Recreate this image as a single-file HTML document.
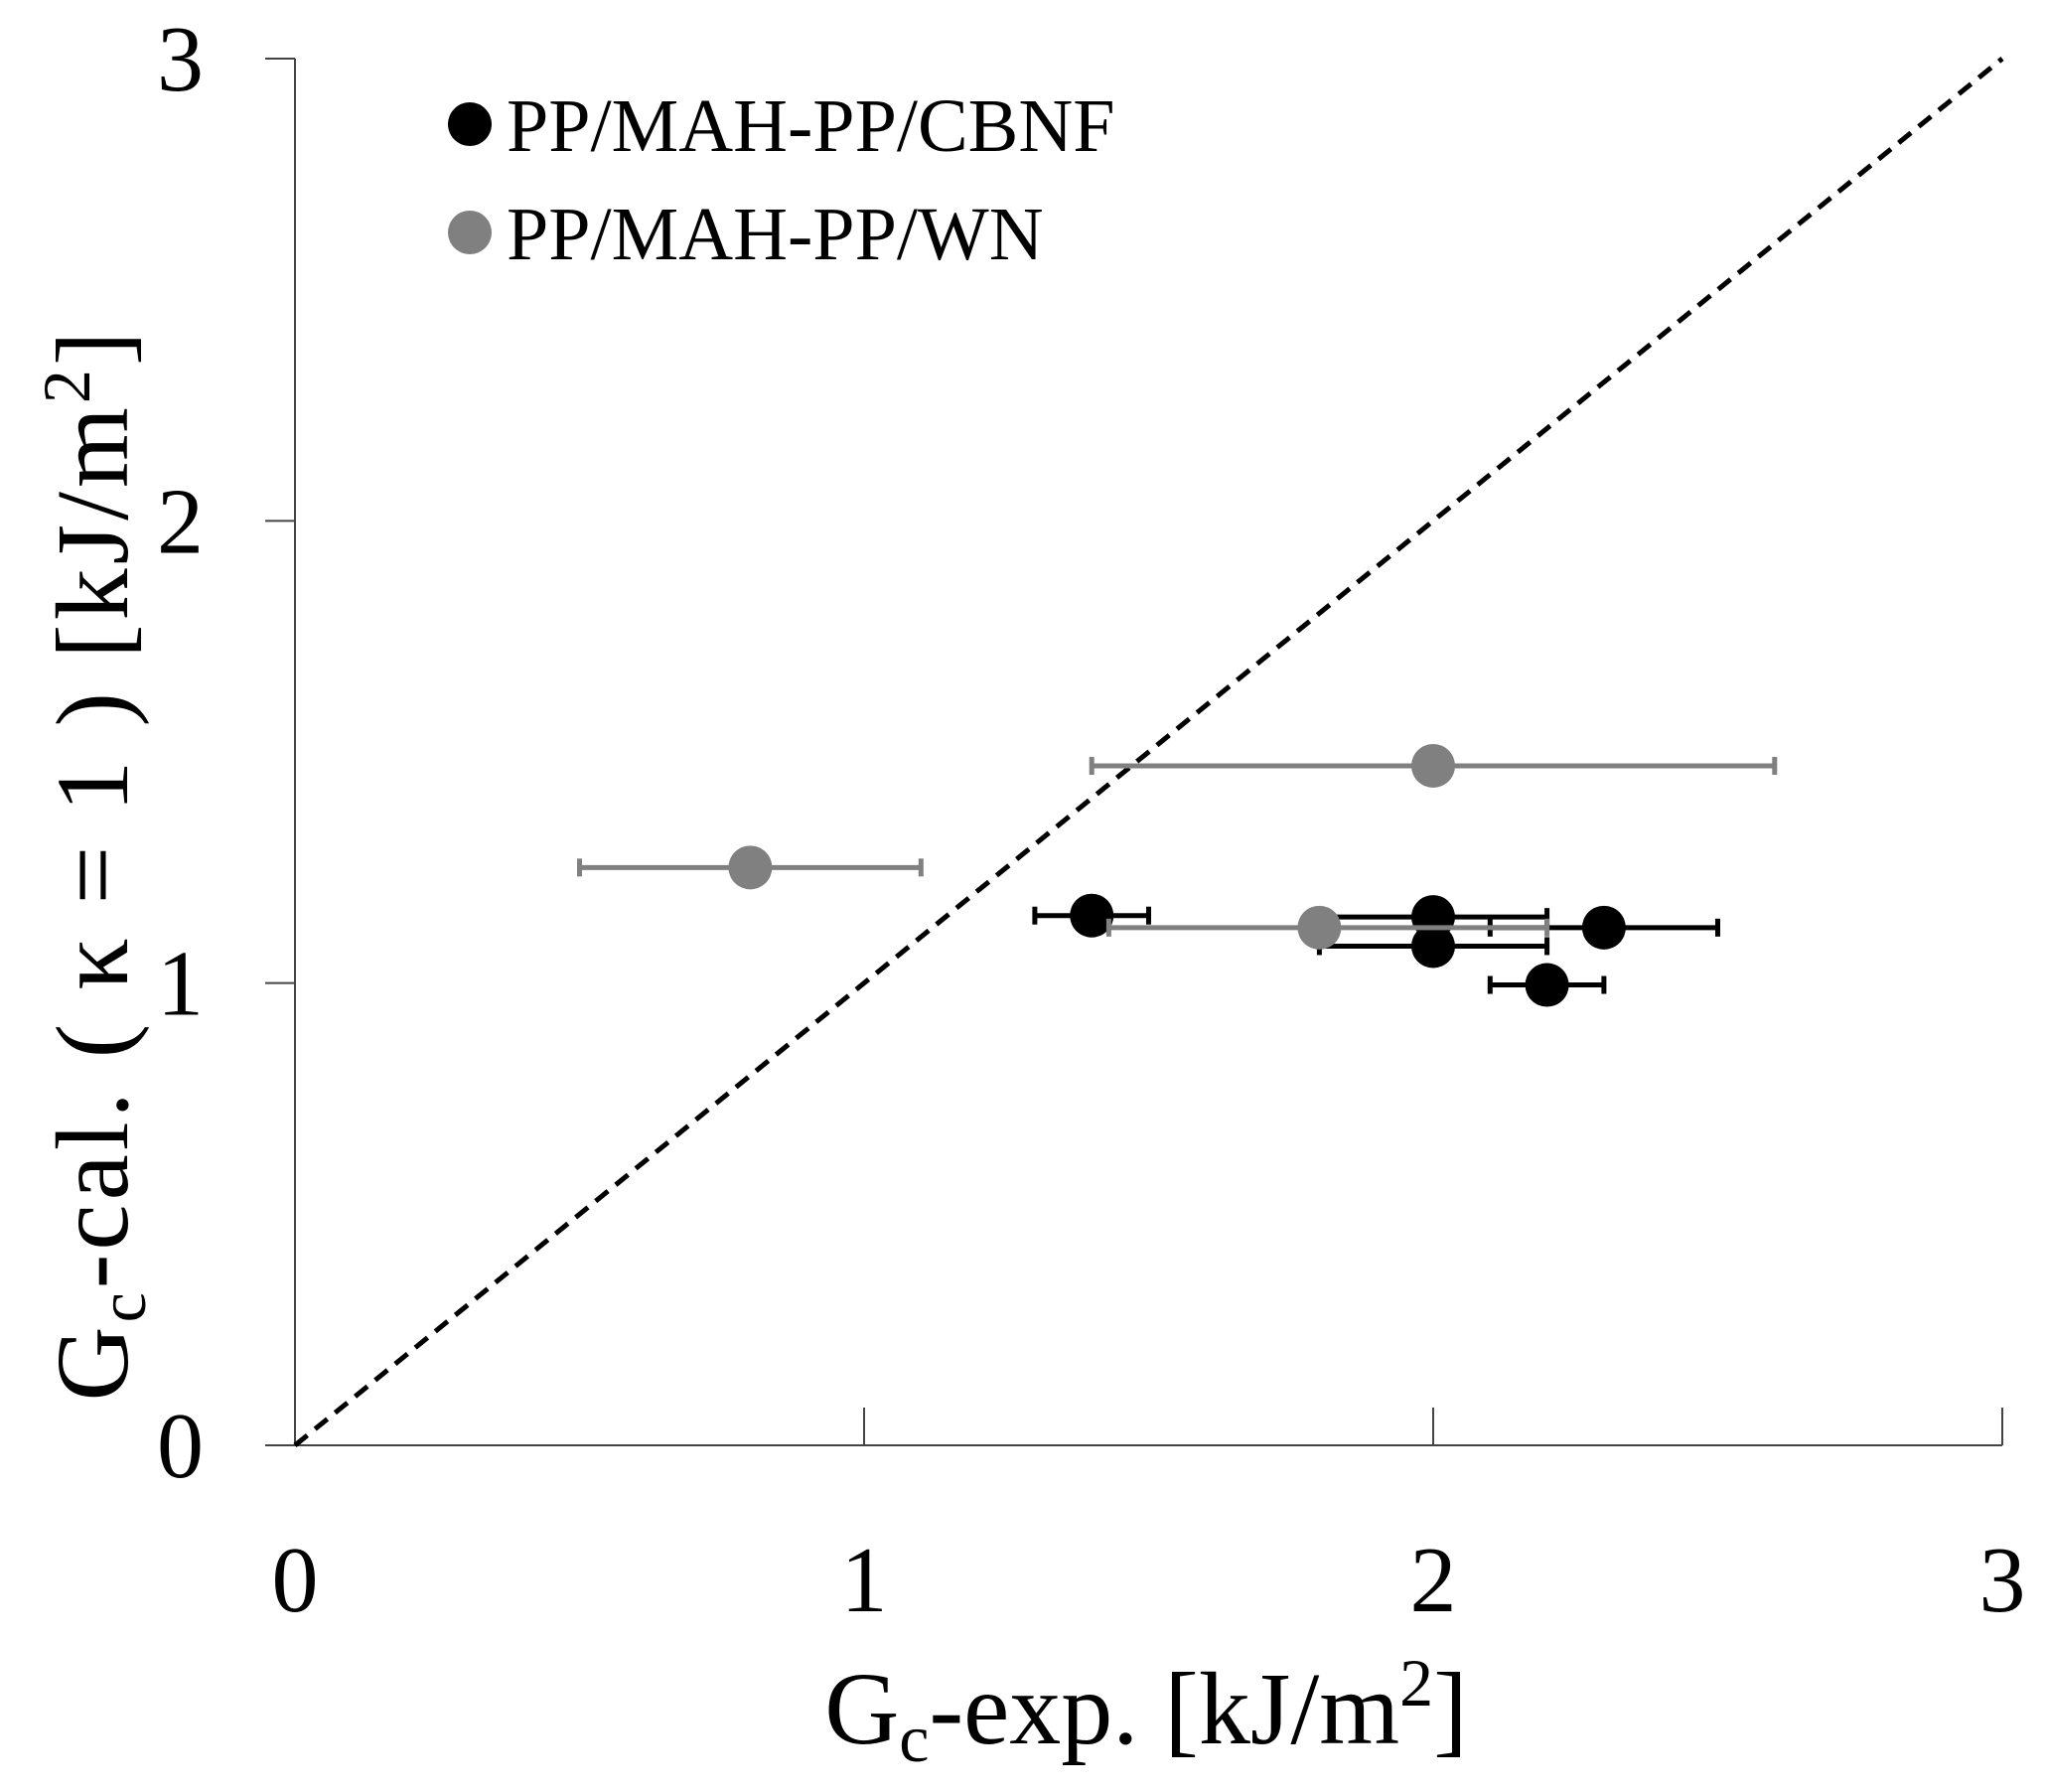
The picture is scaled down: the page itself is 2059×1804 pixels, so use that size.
<!DOCTYPE html>
<html><head><meta charset="utf-8"><style>
html,body{margin:0;padding:0;background:#fff}
svg{display:block}
text{font-family:"Liberation Serif",serif}
</style></head><body>
<svg id="chart" width="2059" height="1804">
<g id="axes"></g>
<g id="marks"></g>
<text x="1154" y="1755" font-size="104" text-anchor="middle">G<tspan font-size="68" dy="18">c</tspan><tspan dy="-18">-exp. [kJ/m</tspan><tspan font-size="68" dy="-38">2</tspan><tspan dy="38">]</tspan></text>
<text transform="translate(128,870) rotate(-90)" font-size="104" text-anchor="middle" letter-spacing="4">G<tspan font-size="68" dy="18">c</tspan><tspan dy="-18">-cal. ( κ = 1 ) [kJ/m</tspan><tspan font-size="68" dy="-38">2</tspan><tspan dy="38">]</tspan></text>
<g>
<circle cx="473" cy="125" r="22" fill="#000"/>
<text x="510" y="152" font-size="76">PP/MAH-PP/CBNF</text>
<circle cx="473" cy="234" r="22" fill="#808080"/>
<text x="510" y="261" font-size="76">PP/MAH-PP/WN</text>
</g>
</svg>
<script>
const xTicks=[0,1,2,3];
const yTicks=[0,1,2,3];
const wnX=[2.0,0.8,1.8];
const wnY=[1.47,1.25,1.12];
const wnLo=[1.4,0.5,1.43];
const wnHi=[2.6,1.1,2.2];
const cbX=[1.4,2.0,2.0,2.3,2.2];
const cbY=[1.146,1.143,1.08,1.12,0.996];
const cbLo=[1.3,1.8,1.8,2.1,2.1];
const cbHi=[1.5,2.2,2.2,2.5,2.3];
const X0=297,X1=2016,Y0=1455,Y1=59;
const sx=v=>X0+(X1-X0)*v/3;
const sy=v=>Y0-(Y0-Y1)*v/3;
const NS='http://www.w3.org/2000/svg';
const axes=document.getElementById('axes'),marks=document.getElementById('marks');
function mk(tag,attrs,parent){const e=document.createElementNS(NS,tag);for(const k in attrs)e.setAttribute(k,attrs[k]);parent.appendChild(e);return e;}
let l=mk('line',{x1:X0,y1:Y0,x2:X1,y2:Y0,stroke:'#444','stroke-width':2},axes);


l=mk('line',{x1:X0,y1:Y0,x2:X0,y2:Y1,stroke:'#444','stroke-width':2},axes);


xTicks.forEach(t=>{
 const tk=mk('line',{x1:sx(t),y1:Y0,x2:sx(t),y2:Y0-38,stroke:'#444','stroke-width':2},axes);
 
 
 const tx=mk('text',{x:sx(t),y:1622,'font-size':94,'text-anchor':'middle'},axes);tx.textContent=t;
 
 
});
yTicks.forEach(t=>{
 const tk=mk('line',{x1:X0-30,y1:sy(t),x2:X0,y2:sy(t),stroke:'#444','stroke-width':2},axes);
 
 
 const tx=mk('text',{x:205,y:sy(t)+32,'font-size':94,'text-anchor':'end'},axes);tx.textContent=t;
 
 
});
l=mk('line',{x1:sx(0),y1:sy(0),x2:sx(3),y2:sy(3),stroke:'#000','stroke-width':5,'stroke-dasharray':'16 10'},marks);


function series(xs,ys,lo,hi,col,name){
 xs.forEach((x,i)=>{
  const y=sy(ys[i]);
  const g=mk('g',{},marks);
  
  
  mk('line',{x1:sx(lo[i]),y1:y,x2:sx(hi[i]),y2:y,stroke:col,'stroke-width':5},g);
  mk('line',{x1:sx(lo[i]),y1:y-9,x2:sx(lo[i]),y2:y+9,stroke:col,'stroke-width':5},g);
  mk('line',{x1:sx(hi[i]),y1:y-9,x2:sx(hi[i]),y2:y+9,stroke:col,'stroke-width':5},g);
 });
 xs.forEach((x,i)=>{
  const c=mk('circle',{cx:sx(x),cy:sy(ys[i]),r:22,fill:col},marks);
  
  
 });
}
series(cbX,cbY,cbLo,cbHi,'#000','cbnf');
series(wnX,wnY,wnLo,wnHi,'#808080','wn');
</script>
</body></html>
